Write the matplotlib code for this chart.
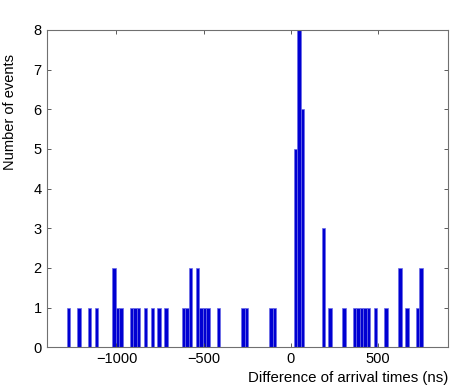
import matplotlib
matplotlib.use('Agg')
import matplotlib.pyplot as plt
import numpy as np

plt.rcParams['font.family'] = ['Liberation Sans', 'DejaVu Sans']

# histogram bins (20 ns wide): bin centre -> count
binWidth = 20
binCenters = [-1275, -1215, -1155, -1115, -1015, -995, -975, -915, -895, -875,
              -835, -795, -755, -715, -615, -595, -575, -535, -515, -495,
              -475, -415, -275, -255, -115, -95, 25, 45, 65, 185, 225, 305,
              365, 385, 405, 425, 445, 485, 545, 625, 665, 725, 745]
counts = [1, 1, 1, 1, 2, 1, 1, 1, 1, 1,
          1, 1, 1, 1, 1, 1, 2, 2, 1, 1,
          1, 1, 1, 1, 1, 1, 5, 8, 6, 3, 1, 1,
          1, 1, 1, 1, 1, 1, 1, 2, 1, 1, 2]

xTicks = [-1000, -500, 0, 500]
yTicks = [0, 1, 2, 3, 4, 5, 6, 7, 8]

fig = plt.figure(figsize=(4.52, 3.87), dpi=100)
ax = fig.add_axes([0.1033, 0.1026, 0.8879, 0.8199])

ax.bar(binCenters, counts, width=binWidth, color='#0000d2',
       edgecolor='#6a6ae6', linewidth=0.5)

ax.set_xlim(-1400, 900)
ax.set_ylim(0, 8)
ax.set_xticks(xTicks)
ax.set_yticks(yTicks)
ax.tick_params(direction='in', top=True, right=True, length=3,
               labelsize=10.5, width=0.6, color='#404040')
for s in ax.spines.values():
    s.set_color('#707070')
    s.set_linewidth(0.8)

ax.set_xlabel('Difference of arrival times (ns)', fontsize=10.8)
ax.set_ylabel('Number of events', fontsize=10.5)
ax.xaxis.set_label_coords(0.75, -0.075)
ax.yaxis.set_label_coords(-0.075, 0.74)

plt.savefig('out.png', dpi=100)
plt.close(fig)
